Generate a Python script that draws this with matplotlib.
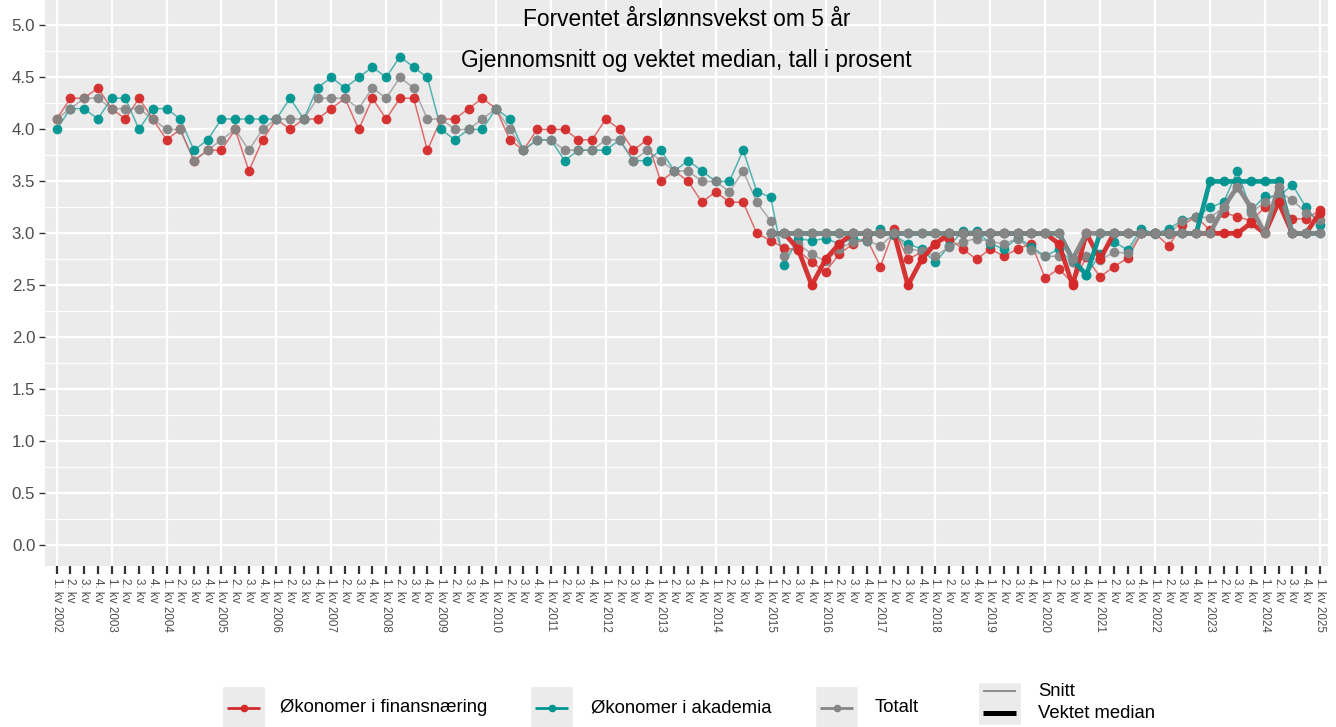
import numpy as np
import matplotlib
matplotlib.use("Agg")
import matplotlib.pyplot as plt
from matplotlib.patches import Rectangle

plt.rcParams['font.family'] = ['Liberation Sans', 'DejaVu Sans']

# quarters 2002Q1 .. 2025Q1
years = list(range(2002, 2026))
quarter_labels = []
for y in years:
    for q in range(1, 5):
        if y == 2025 and q > 1:
            break
        quarter_labels.append(f"{q}. kv {y}" if q == 1 else f"{q}. kv")

# gjennomsnitt (snitt)
snitt_finans = [
    4.1, 4.3, 4.3, 4.4, 4.2, 4.1, 4.3, 4.1, 3.9, 4.0, 3.7, 3.8,
    3.8, 4.0, 3.6, 3.9, 4.1, 4.0, 4.1, 4.1, 4.2, 4.3, 4.0, 4.3,
    4.1, 4.3, 4.3, 3.8, 4.1, 4.1, 4.2, 4.3, 4.2, 3.9, 3.8, 4.0,
    4.0, 4.0, 3.9, 3.9, 4.1, 4.0, 3.8, 3.9, 3.5, 3.6, 3.5, 3.3,
    3.4, 3.3, 3.3, 3.0,
    2.93, 2.86, 2.84, 2.72, 2.63, 2.80, 2.90, 2.95, 2.68, 3.04,
    2.75, 2.82, 2.90, 2.95, 2.85, 2.75, 2.85, 2.78, 2.85, 2.90,
    2.57, 2.66, 2.52, 2.77, 2.58, 2.68, 2.76, 3.00, 3.00, 2.88,
    3.08, 3.16, 3.03, 3.20, 3.16, 3.12, 3.25, 3.30, 3.14, 3.14, 3.22]
snitt_akademia = [
    4.0, 4.2, 4.2, 4.1, 4.3, 4.3, 4.0, 4.2, 4.2, 4.1, 3.8, 3.9,
    4.1, 4.1, 4.1, 4.1, 4.1, 4.3, 4.1, 4.4, 4.5, 4.4, 4.5, 4.6,
    4.5, 4.7, 4.6, 4.5, 4.0, 3.9, 4.0, 4.0, 4.2, 4.1, 3.8, 3.9,
    3.9, 3.7, 3.8, 3.8, 3.8, 3.9, 3.7, 3.7, 3.8, 3.6, 3.7, 3.6,
    3.5, 3.5, 3.8, 3.4,
    3.35, 2.70, 2.95, 2.93, 2.95, 2.90, 2.95, 2.93, 3.04, 2.98,
    2.90, 2.85, 2.72, 2.88, 3.02, 3.02, 2.90, 2.85, 2.96, 2.87,
    2.78, 2.85, 2.72, 2.60, 2.80, 2.92, 2.84, 3.04, 3.00, 3.04,
    3.13, 3.16, 3.25, 3.30, 3.60, 3.22, 3.36, 3.35, 3.47, 3.25, 3.08]
snitt_totalt = [
    4.1, 4.2, 4.3, 4.3, 4.2, 4.2, 4.2, 4.1, 4.0, 4.0, 3.7, 3.8,
    3.9, 4.0, 3.8, 4.0, 4.1, 4.1, 4.1, 4.3, 4.3, 4.3, 4.2, 4.4,
    4.3, 4.5, 4.4, 4.1, 4.1, 4.0, 4.0, 4.1, 4.2, 4.0, 3.8, 3.9,
    3.9, 3.8, 3.8, 3.8, 3.9, 3.9, 3.7, 3.8, 3.7, 3.6, 3.6, 3.5,
    3.5, 3.4, 3.6, 3.3,
    3.12, 2.78, 2.90, 2.80, 2.73, 2.85, 2.92, 2.93, 2.88, 3.00,
    2.85, 2.83, 2.78, 2.87, 2.92, 2.95, 2.92, 2.90, 2.95, 2.84,
    2.78, 2.78, 2.72, 2.78, 2.74, 2.82, 2.81, 3.00, 2.99, 2.99,
    3.12, 3.16, 3.15, 3.25, 3.45, 3.20, 3.30, 3.40, 3.32, 3.20, 3.13]

# vektet median, fra 1. kv 2015
median_start = 52
median_finans = [
    3.0, 3.0, 2.85, 2.5, 2.75, 2.9, 3.0, 3.0, 3.0, 3.0,
    2.5, 2.75, 2.9, 3.0, 3.0, 3.0, 3.0, 3.0, 3.0, 3.0,
    3.0, 2.9, 2.5, 3.0, 2.75, 3.0, 3.0, 3.0, 3.0, 3.0,
    3.0, 3.0, 3.0, 3.0, 3.0, 3.1, 3.0, 3.3, 3.0, 3.0, 3.2]
median_akademia = [
    3.0, 3.0, 3.0, 3.0, 3.0, 3.0, 3.0, 3.0, 3.0, 3.0,
    3.0, 3.0, 3.0, 3.0, 3.0, 3.0, 3.0, 3.0, 3.0, 3.0,
    3.0, 3.0, 2.75, 2.6, 3.0, 3.0, 3.0, 3.0, 3.0, 3.0,
    3.0, 3.0, 3.5, 3.5, 3.5, 3.5, 3.5, 3.5, 3.0, 3.0, 3.0]
median_totalt = [
    3.0, 3.0, 3.0, 3.0, 3.0, 3.0, 3.0, 3.0, 3.0, 3.0,
    3.0, 3.0, 3.0, 3.0, 3.0, 3.0, 3.0, 3.0, 3.0, 3.0,
    3.0, 3.0, 2.75, 3.0, 3.0, 3.0, 3.0, 3.0, 3.0, 3.0,
    3.0, 3.0, 3.0, 3.25, 3.45, 3.25, 3.0, 3.45, 3.0, 3.0, 3.0]

series_names = ["Økonomer i finansnæring", "Økonomer i akademia", "Totalt"]
colors = ["#D42A2A", "#009490", "#858585"]

x = np.arange(len(quarter_labels))
xm = np.arange(median_start, median_start + len(median_totalt))

fig = plt.figure(figsize=(13.36, 7.27), dpi=100)
ax = fig.add_axes([45 / 1336, 1 - 566 / 727, (1328 - 45) / 1336, 566 / 727])
ax.set_facecolor("#EBEBEB")

# thin lines = snitt
for vals, c in zip([snitt_finans, snitt_akademia, snitt_totalt], colors):
    ax.plot(x, vals, color=c, lw=1.1, alpha=0.65, zorder=3)
    ax.plot(x, vals, ls="none", marker="o", ms=7, mec="none", mfc=c, alpha=0.95, zorder=4)

# thick lines = vektet median
for vals, c in zip([median_finans, median_akademia, median_totalt], colors):
    ax.plot(xm, vals, color=c, lw=3.4, alpha=0.95, zorder=5, solid_capstyle="round")
    ax.plot(xm, vals, ls="none", marker="o", ms=7, mec="none", mfc=c, zorder=6)

ax.set_xlim(-0.85, len(x) - 1 + 0.6)
ax.set_ylim(-0.2, 5.245)

ax.set_yticks(np.arange(0, 5.01, 0.5))
ax.set_yticklabels([f"{v:.1f}" for v in np.arange(0, 5.01, 0.5)])
ax.set_yticks(np.arange(0.25, 5.0, 0.5), minor=True)
ax.set_xticks(x)
ax.set_xticklabels(quarter_labels, rotation=-90, ha="center", va="top")

ax.tick_params(axis="y", which="major", labelsize=12.2, labelcolor="#4D4D4D",
               color="#333333", length=4, width=1, pad=3)
ax.tick_params(axis="y", which="minor", length=0)
ax.tick_params(axis="x", labelsize=8.4, labelcolor="#4D4D4D",
               color="#333333", length=6, width=1.6, pad=3)

for v in np.arange(0, 5.01, 0.5):
    ax.axhline(v, color="white", lw=1.6, zorder=1)
for v in np.arange(0.25, 5.0, 0.5):
    ax.axhline(v, color="white", lw=0.8, zorder=1)
for i in range(0, len(x), 4):
    ax.axvline(i, color="white", lw=1.6, zorder=1)

for s in ax.spines.values():
    s.set_visible(False)

ax.text(0.5, 1 - 20 / 566, "Forventet årslønnsvekst om 5 år", transform=ax.transAxes,
        ha="center", va="center", fontsize=16.4, color="black")
ax.text(0.5, 1 - 61 / 566, "Gjennomsnitt og vektet median, tall i prosent",
        transform=ax.transAxes, ha="center", va="center", fontsize=16.4, color="black")

# legend at the bottom, drawn in pixel coordinates
lg = fig.add_axes([0, 0, 1, 1], zorder=-1)
lg.set_xlim(0, 1336)
lg.set_ylim(727, 0)
lg.axis("off")

key_x = [222, 530, 815]
text_x = [280, 591, 875]
for kx, tx, c, name in zip(key_x, text_x, colors, series_names):
    lg.add_patch(Rectangle((kx, 686), 43, 43, facecolor="#EBEBEB", edgecolor="white", lw=1))
    lg.plot([kx + 5, kx + 38], [708, 708], color=c, lw=2, solid_capstyle="butt")
    lg.plot([kx + 21.5], [708], marker="o", ms=5.5, color=c, mec="none")
    lg.text(tx, 708, name, fontsize=13.3, va="center", ha="left", color="black")

lg.add_patch(Rectangle((978, 682), 43, 43, facecolor="#EBEBEB", edgecolor="white", lw=1))
lg.plot([983, 1016], [691, 691], color="#858585", lw=1.3, solid_capstyle="butt")
lg.plot([983, 1016], [713, 713], color="black", lw=3.6, solid_capstyle="butt")
lg.text(1038, 692, "Snitt", fontsize=13.3, va="center", ha="left")
lg.text(1038, 714, "Vektet median", fontsize=13.3, va="center", ha="left")

fig.savefig("out.png", dpi=100)
